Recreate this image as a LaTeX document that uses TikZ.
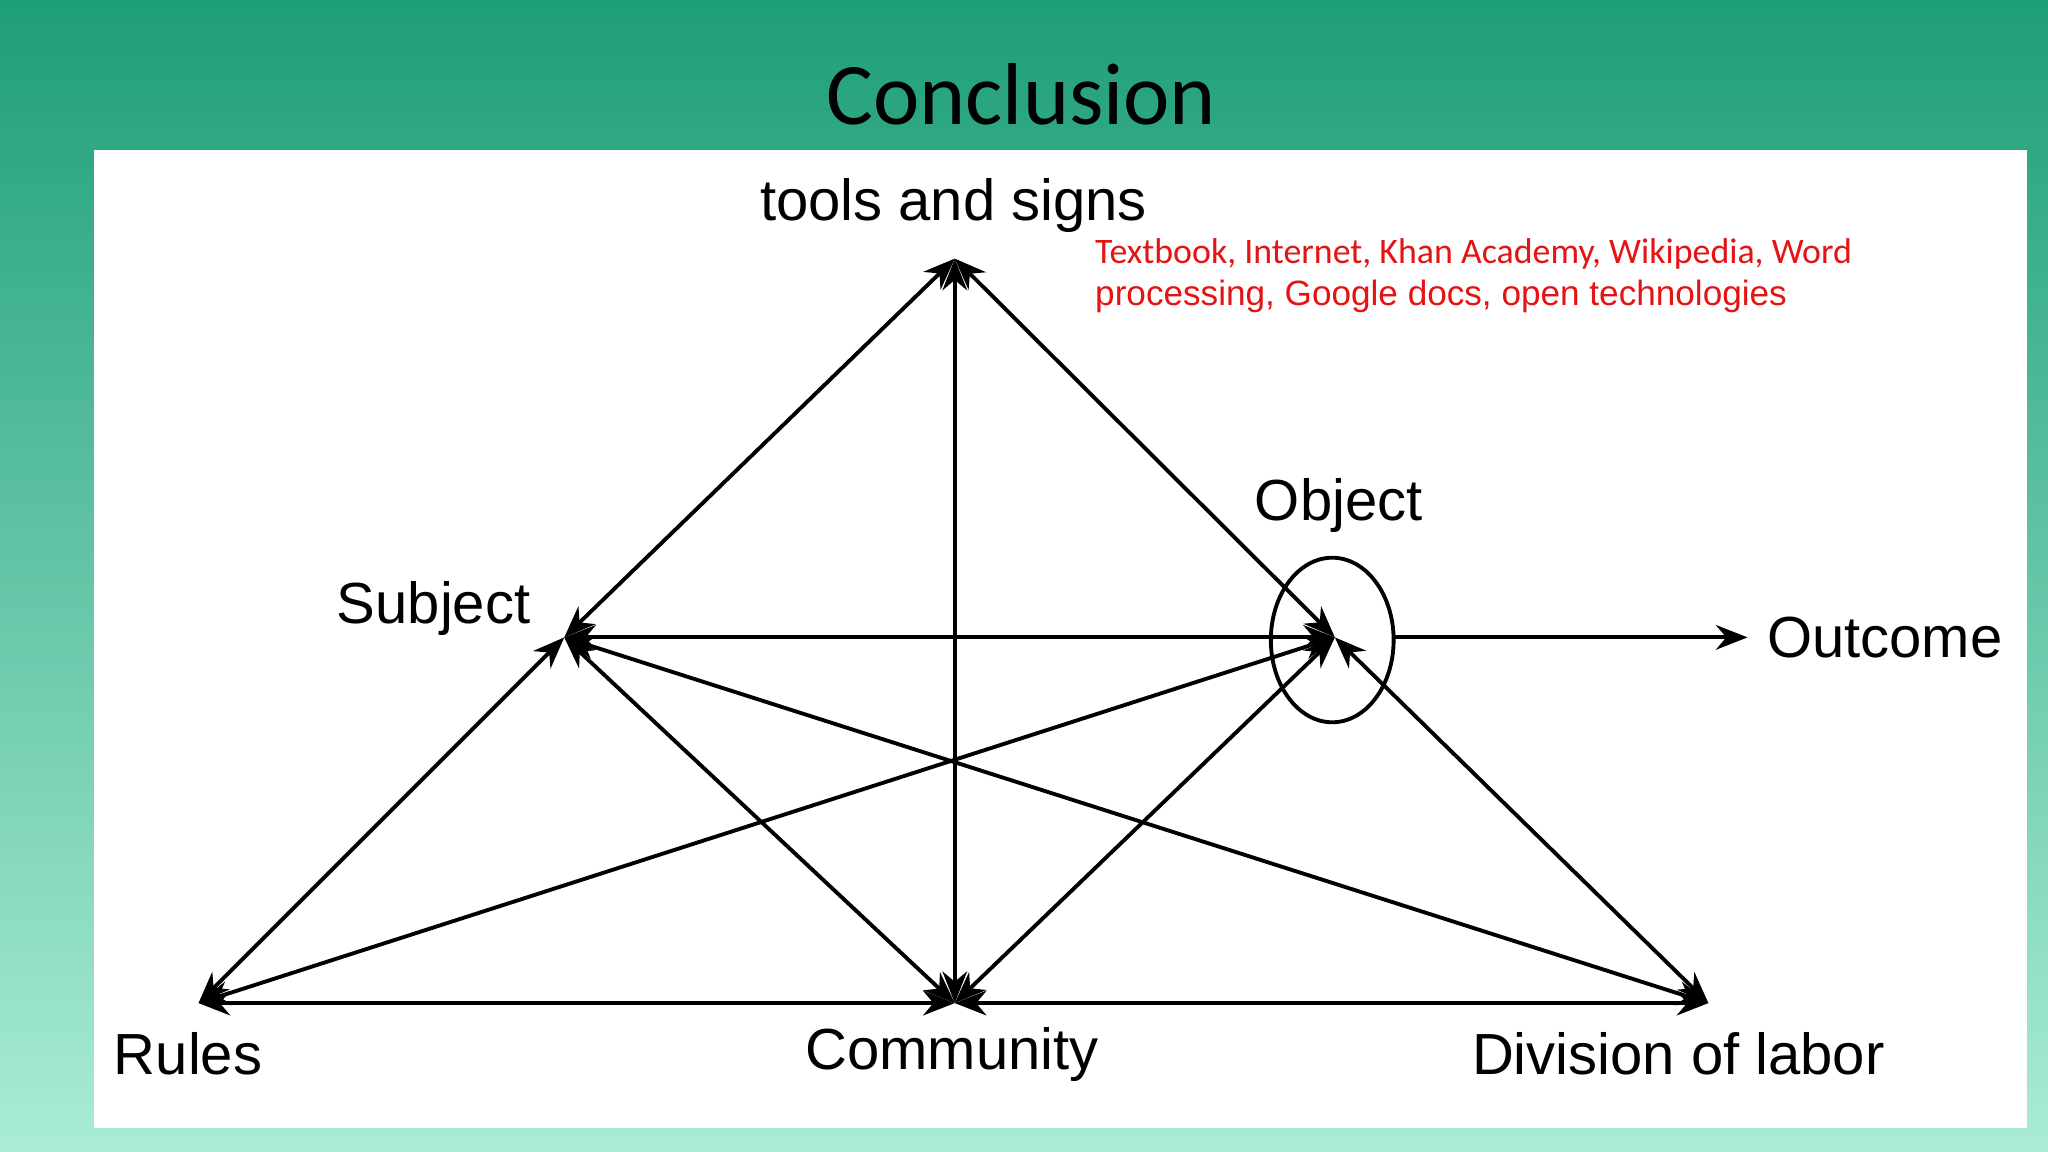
\documentclass[tikz,border=0pt]{standalone}
\usepackage{fontspec}
\setmainfont{Liberation Sans}
\newfontfamily\calib{Carlito}
\usetikzlibrary{arrows.meta}
\definecolor{bgtop}{RGB}{30,158,120}
\definecolor{bgbot}{RGB}{170,236,214}
\definecolor{txtred}{RGB}{228,20,20}
\begin{document}
\begin{tikzpicture}
[x=0.013061cm, y=-0.013061cm,
label/.style={font=\fontsize{16.5}{18}\selectfont, inner sep=0pt},
link/.style={line width=1.1pt, {Stealth[length=9pt,width=7pt]}-{Stealth[length=9pt,width=7pt]}},
result/.style={line width=1.1pt, -{Stealth[length=9pt,width=7pt]}}]
\shade[top color=bgtop, bottom color=bgbot] (0,0) rectangle (1568,882);
\useasboundingbox (0,0) rectangle (1568,882);
\fill[white] (72,115) rectangle (1552,864);
\node (title) at (782,72) {\calib\fontsize{25}{30}\selectfont Conclusion};
\coordinate (tools) at (731,198);
\coordinate (subject) at (432,488);
\coordinate (object) at (1022,488);
\coordinate (rules) at (152,768);
\coordinate (community) at (731,768);
\coordinate (division) at (1308,768);
\coordinate (outcome) at (1338,488);
\draw[line width=1.1pt] (1020,490) ellipse (47 and 63);
\draw[link] (tools) -- (subject);
\draw[link] (tools) -- (community);
\draw[link] (tools) -- (object);
\draw[link] (subject) -- (object);
\draw[link] (subject) -- (rules);
\draw[link] (subject) -- (community);
\draw[link] (subject) -- (division);
\draw[link] (rules) -- (object);
\draw[link] (rules) -- (community);
\draw[link] (community) -- (object);
\draw[link] (community) -- (division);
\draw[link] (object) -- (division);
\draw[result] (1067,488) -- (outcome);
\node[label] (toolslbl) at (730,157) {tools and signs};
\node[label] (subjlbl) at (332,466) {Subject};
\node[label] (objlbl) at (1025,387) {Object};
\node[label] (outlbl) at (1443,488) {Outcome};
\node[label] (ruleslbl) at (144,807) {Rules};
\node[label] (commlbl) at (729,807) {Community};
\node[label] (divlbl) at (1285,807) {Division of labor};
\node[anchor=north west, align=left, text=txtred, inner sep=0pt] (examples) at (838,182)
  {\calib\fontsize{10.2}{13}\selectfont Textbook, Internet, Khan Academy, Wikipedia, Word\\processing, Google docs, open technologies};
\end{tikzpicture}
\end{document}
